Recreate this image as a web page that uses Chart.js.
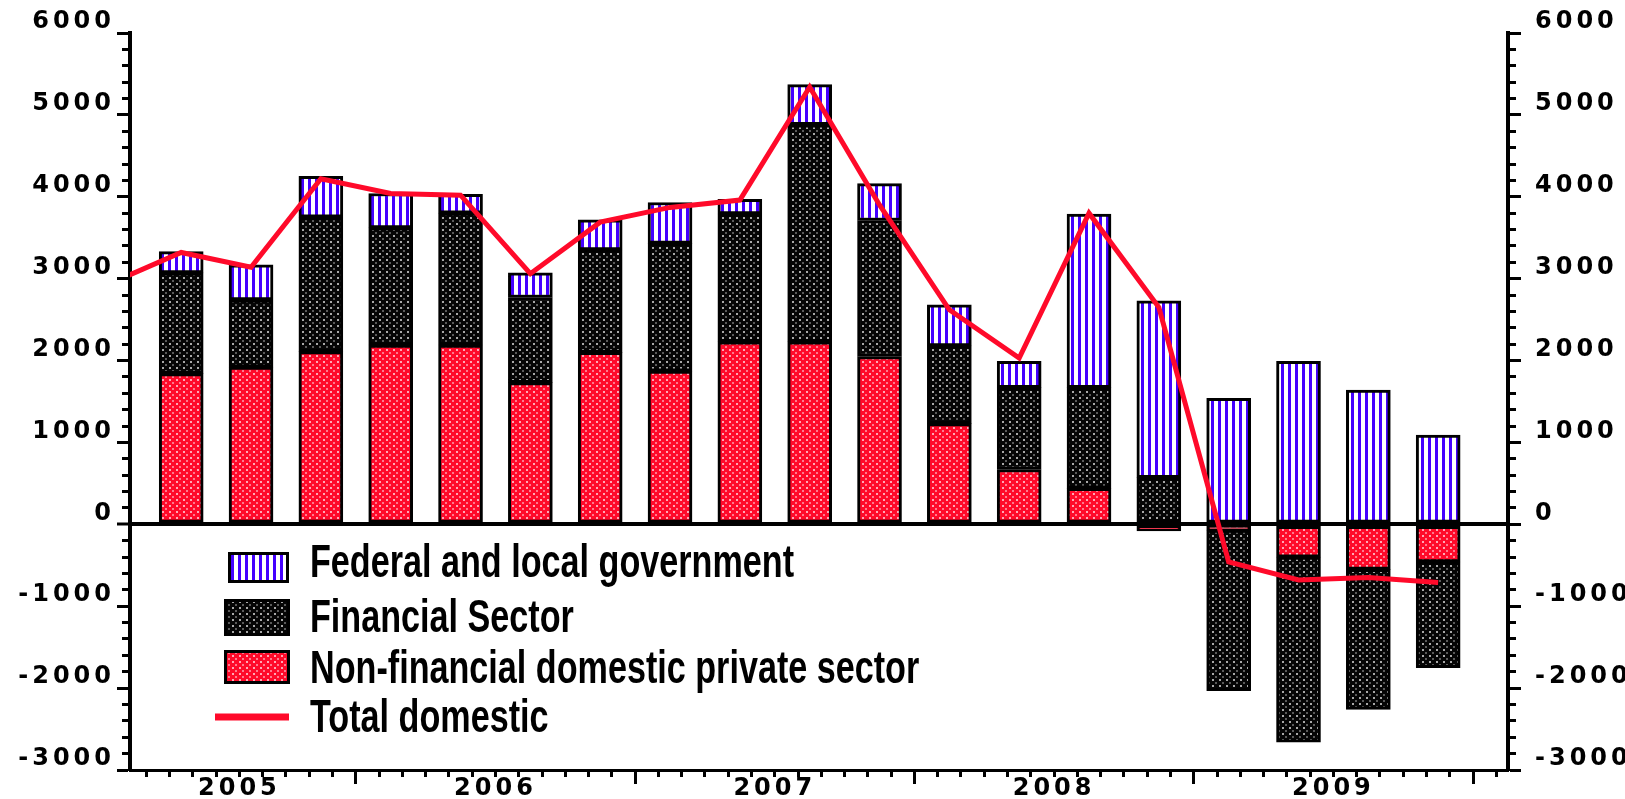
<!DOCTYPE html>
<html>
<head>
<meta charset="utf-8">
<script src="https://cdn.jsdelivr.net/npm/chart.js@4.4.1/dist/chart.umd.min.js"></script>
<style>
  html, body { margin: 0; padding: 0; background: #fff; }
  #wrap { position: relative; width: 1625px; height: 799px; }
</style>
</head>
<body>
<div id="wrap"><canvas id="chart"></canvas></div>
<script>
const quarters = ['2005Q1', '2005Q2', '2005Q3', '2005Q4', '2006Q1', '2006Q2', '2006Q3', '2006Q4',
  '2007Q1', '2007Q2', '2007Q3', '2007Q4', '2008Q1', '2008Q2', '2008Q3', '2008Q4',
  '2009Q1', '2009Q2', '2009Q3', '2009Q4'];
const years = ['2005', '2006', '2007', '2008', '2009'];
const yTickLabels = [-3000, -2000, -1000, 0, 1000, 2000, 3000, 4000, 5000, 6000];
const seriesNames = ['Federal and local government', 'Financial Sector',
  'Non-financial domestic private sector', 'Total domestic'];

// bars start at 2005Q2 -- the 2005Q1 bar sits left of the axis
const barQuarters = quarters.slice(1);
const nonFinancial = [1840, 1920, 2110, 2190, 2190, 1730, 2100, 1870, 2230, 2230, 2050, 1230, 670, 440, -80, -70, -400, -550, -460];
const financial = [1230, 820, 1640, 1430, 1610, 1040, 1250, 1560, 1560, 2650, 1660, 950, 1000, 1230, 570, -1960, -2260, -1710, -1290];
const government = [260, 430, 500, 420, 230, 300, 370, 500, 180, 490, 450, 500, 320, 2120, 2160, 1540, 1990, 1640, 1090];
const totalDomestic = [2950, 3320, 3140, 4220, 4040, 4020, 3060, 3690, 3870, 3960, 5340, 3900, 2620, 2030, 3800, 2650, -460, -680, -650, -710];

const RED = '#ff0a2a';
const X_MIN = 2.3, X_MAX = 61.5; // months since Jan 2005

// quarter label -> month position (middle of the quarter)
function monthPos(q) {
  const yr = +q.slice(0, 4), qn = +q.slice(5);
  return (yr - 2005) * 12 + (qn - 1) * 3 + 1.5;
}

// year label sits in the middle of the visible part of its year
const yearLabelAt = {};
years.forEach((y, i) => {
  const lo = Math.max(i * 12, X_MIN), hi = Math.min(i * 12 + 12, X_MAX);
  yearLabelAt[Math.round((lo + hi) / 2)] = y;
});

const canvas = document.getElementById('chart');
const c2d = canvas.getContext('2d');

function makePattern(w, h, bg, paint) {
  const t = document.createElement('canvas');
  t.width = w; t.height = h;
  const g = t.getContext('2d');
  g.fillStyle = bg;
  g.fillRect(0, 0, w, h);
  paint(g);
  return c2d.createPattern(t, 'repeat');
}

const redDots = makePattern(7, 6, RED, (g) => {
  g.fillStyle = '#ffa8b6';
  g.fillRect(1, 1, 2, 2);
  g.fillStyle = '#ff7a8e';
  g.fillRect(4, 4, 2, 2);
});
const blackDots = makePattern(7, 6, '#050505', (g) => {
  g.fillStyle = '#a8a8a8';
  g.fillRect(1, 1, 2, 2);
  g.fillStyle = '#5a5a5a';
  g.fillRect(4, 4, 2, 2);
});
const blueStripes = makePattern(7, 4, '#ffffff', (g) => {
  g.fillStyle = '#4400ff';
  g.fillRect(0, 0, 3, 4);
});

function barSeries(label, values, fill) {
  return {
    type: 'bar',
    label,
    data: barQuarters.map((q, i) => ({ x: monthPos(q), y: values[i] })),
    backgroundColor: fill,
    borderColor: '#000',
    borderWidth: 3,
    borderSkipped: false,
    barThickness: 44,
    stack: 'sectors',
    yAxisID: 'y',
  };
}

const tickFont = { family: '"DejaVu Sans"', size: 24, weight: 'bold' };

// wide, spaced-out digits like the original
const tickSpacing = {
  id: 'tickSpacing',
  beforeDraw(chart) { chart.ctx.letterSpacing = '4px'; },
  afterDraw(chart) { chart.ctx.letterSpacing = '0px'; },
};

// legend sits inside the plot, below the zero line
const insideLegend = {
  id: 'insideLegend',
  afterDraw(chart) {
    const ctx = chart.ctx;
    const ds = chart.data.datasets;
    const find = (name) => ds.find((d) => d.label === name);
    const rows = [
      { name: seriesNames[0], box: [228, 552, 61, 31], base: 577 },
      { name: seriesNames[1], box: [224, 599, 66, 37], base: 632 },
      { name: seriesNames[2], box: [224, 650, 66, 34], base: 683 },
      { name: seriesNames[3], line: [215, 289, 717], base: 732 },
    ];
    ctx.save();
    ctx.letterSpacing = '0px';
    ctx.font = 'bold 46px "Liberation Sans"';
    ctx.textBaseline = 'alphabetic';
    ctx.textAlign = 'left';
    const sx = 484 / ctx.measureText(rows[0].name).width;
    rows.forEach((r) => {
      const d = find(r.name);
      if (r.box) {
        const [x, y, w, h] = r.box;
        ctx.fillStyle = '#000';
        ctx.fillRect(x, y, w, h);
        ctx.fillStyle = d.backgroundColor;
        ctx.fillRect(x + 3, y + 3, w - 6, h - 6);
      } else {
        const [x1, x2, y] = r.line;
        ctx.strokeStyle = d.borderColor;
        ctx.lineWidth = 7;
        ctx.beginPath();
        ctx.moveTo(x1, y);
        ctx.lineTo(x2, y);
        ctx.stroke();
      }
      ctx.save();
      ctx.translate(310, r.base);
      ctx.scale(sx, 1);
      ctx.fillStyle = '#000';
      ctx.fillText(r.name, 0, 0);
      ctx.restore();
    });
    ctx.restore();
  },
};

new Chart(canvas, {
  type: 'bar',
  data: {
    datasets: [
      {
        type: 'line',
        label: seriesNames[3],
        data: quarters.map((q, i) => ({ x: monthPos(q), y: totalDomestic[i] })),
        yAxisID: 'yR',
        borderColor: RED,
        borderWidth: 5,
        pointRadius: 0,
        tension: 0,
        order: -1,
      },
      barSeries(seriesNames[2], nonFinancial, redDots),
      barSeries(seriesNames[1], financial, blackDots),
      barSeries(seriesNames[0], government, blueStripes),
    ],
  },
  options: {
    responsive: true,
    maintainAspectRatio: false,
    animation: false,
    events: [],
    layout: { padding: { top: 33, left: 0, right: 0, bottom: 0 } },
    plugins: { legend: { display: false }, tooltip: { enabled: false } },
    scales: {
      x: {
        type: 'linear',
        min: X_MIN,
        max: X_MAX,
        stacked: true,
        offset: false,
        afterFit: (s) => { s.height = 29; },
        border: { display: true, color: '#000', width: 3 },
        grid: {
          offset: false,
          drawOnChartArea: false,
          tickLength: 14,
          tickWidth: 3,
          tickColor: '#000',
          tickBorderDash: (c) => (c.tick && c.tick.value % 12 === 0 ? [] : [5, 50]),
        },
        ticks: {
          stepSize: 1,
          includeBounds: false,
          autoSkip: false,
          maxRotation: 0,
          minRotation: 0,
          padding: -10,
          color: '#000',
          font: tickFont,
          callback: (v) => yearLabelAt[v] || '',
        },
      },
      y: {
        position: 'left',
        min: -3000,
        max: 6000,
        stacked: true,
        afterFit: (s) => { s.width = 130; },
        border: { display: true, color: '#000', width: 4 },
        grid: {
          color: (c) => (c.tick && c.tick.value === 0 ? '#000' : 'rgba(0,0,0,0)'),
          lineWidth: (c) => (c.tick && c.tick.value === 0 ? 4 : 1),
          tickLength: 13,
          tickWidth: 3,
          tickColor: '#000',
          tickBorderDash: (c) => (c.tick && c.tick.value % 1000 === 0 ? [] : [0, 5, 8, 50]),
        },
        ticks: {
          stepSize: 200,
          autoSkip: false,
          padding: 2,
          labelOffset: -11,
          color: '#000',
          font: tickFont,
          callback: (v) => (yTickLabels.includes(v) ? String(v) : ''),
        },
      },
      yR: {
        position: 'right',
        min: -3000,
        max: 6000,
        afterFit: (s) => { s.width = 117; },
        border: { display: true, color: '#000', width: 4 },
        grid: {
          drawOnChartArea: false,
          tickLength: 13,
          tickWidth: 3,
          tickColor: '#000',
          tickBorderDash: (c) => (c.tick && c.tick.value % 1000 === 0 ? [] : [6, 50]),
        },
        ticks: {
          stepSize: 200,
          autoSkip: false,
          padding: 14,
          labelOffset: -11,
          color: '#000',
          font: tickFont,
          callback: (v) => (yTickLabels.includes(v) ? String(v) : ''),
        },
      },
    },
  },
  plugins: [tickSpacing, insideLegend],
});
</script>
</body>
</html>
